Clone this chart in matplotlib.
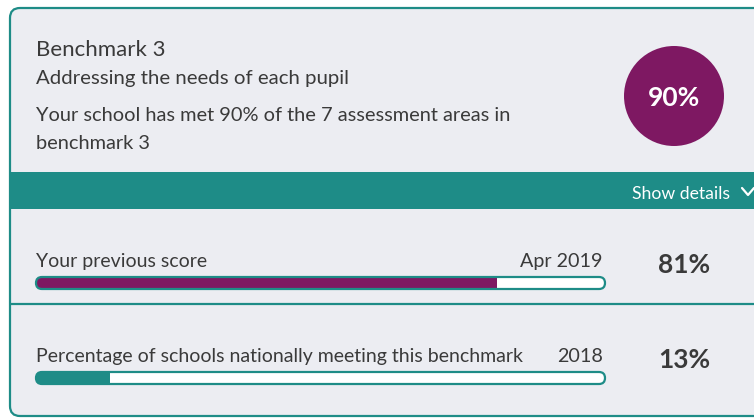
import matplotlib
matplotlib.use("Agg")
import matplotlib.pyplot as plt
from matplotlib.patches import FancyBboxPatch, Circle, Rectangle

# ---- data ----
title = "Benchmark 3"
subtitle = "Addressing the needs of each pupil"
summary_lines = ["Your school has met 90% of the 7 assessment areas in", "benchmark 3"]
current_score = 90
details_label = "Show details"
row_labels = ["Your previous score", "Percentage of schools nationally meeting this benchmark"]
row_dates = ["Apr 2019", "2018"]
row_values = [81, 13]

# ---- style ----
BG = "#ECEDF2"
TEAL = "#1E8C87"
PURPLE = "#7E1862"
TXT = "#3A3A3A"
FONT = "Lato"
row_colors = [PURPLE, TEAL]

W, H = 754, 418
fig = plt.figure(figsize=(W / 100, H / 100), dpi=100)
fig.patch.set_facecolor("white")
ax = fig.add_axes([0, 0, 1, 1])
ax.set_xlim(0, W)
ax.set_ylim(H, 0)
ax.axis("off")

# card
card = FancyBboxPatch((10, 8), 800, 408, boxstyle="round,pad=0,rounding_size=10",
                      facecolor=BG, edgecolor=TEAL, linewidth=1.6)
ax.add_patch(card)

# header texts
ax.text(36, 56, title, fontsize=16, color=TXT, family=FONT, va="baseline", ha="left")
ax.text(36, 84, subtitle, fontsize=14.7, color=TXT, family=FONT, va="baseline", ha="left")
for i, line in enumerate(summary_lines):
    ax.text(36, 121 + i * 28, line, fontsize=14.4, color=TXT, family=FONT, va="baseline", ha="left")

# circle
ax.add_patch(Circle((674, 96), 50, facecolor=PURPLE, edgecolor="none"))
ax.text(674, 106, f"{current_score}%", fontsize=19, color="white", family=FONT,
        fontweight="bold", ha="center", va="baseline")

# teal band
ax.add_patch(Rectangle((11, 172), 800, 37, facecolor=TEAL, edgecolor="none"))
ax.text(730, 199, details_label, fontsize=12.7, color="white", family=FONT, ha="right", va="baseline")
ax.plot([742, 748, 754], [188, 195, 188], color="white", lw=1.6, solid_capstyle="round")

# separator
ax.plot([11, 754], [304, 304], color=TEAL, lw=1.6)

# rows
bar_x0, bar_x1 = 36, 605
bar_w = bar_x1 - bar_x0
label_y = [267, 362]
bar_y = [283, 378]
value_y = [273, 368]
bar_h = 12
for i in range(len(row_values)):
    ax.text(36, label_y[i], row_labels[i], fontsize=14, color=TXT, family=FONT, va="baseline", ha="left")
    ax.text(603, label_y[i], row_dates[i], fontsize=14.2, color=TXT, family=FONT, va="baseline", ha="right")
    ax.text(684, value_y[i], f"{row_values[i]}%", fontsize=19, color=TXT, family=FONT,
            fontweight="bold", va="baseline", ha="center")
    pill = FancyBboxPatch((bar_x0, bar_y[i] - bar_h / 2), bar_w, bar_h,
                          boxstyle=f"round,pad=0,rounding_size={bar_h/2}",
                          facecolor="white", edgecolor="none", zorder=2)
    ax.add_patch(pill)
    bars = ax.barh([bar_y[i]], [row_values[i] / 100 * bar_w], left=bar_x0, height=bar_h,
                   color=row_colors[i], zorder=3)
    for b in bars:
        b.set_clip_path(pill)
    outline = FancyBboxPatch((bar_x0, bar_y[i] - bar_h / 2), bar_w, bar_h,
                             boxstyle=f"round,pad=0,rounding_size={bar_h/2}",
                             facecolor="none", edgecolor=TEAL, linewidth=1.6, zorder=4)
    ax.add_patch(outline)

fig.savefig("out.png", dpi=100, facecolor=fig.get_facecolor())
